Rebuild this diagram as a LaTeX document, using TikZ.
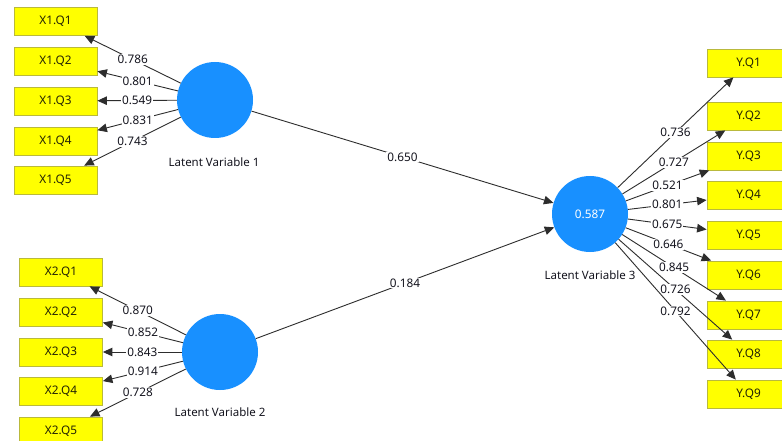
\documentclass[tikz,border=0pt]{standalone}
\usepackage{fontspec}
\setmainfont{Noto Sans}
\usetikzlibrary{arrows.meta}
\definecolor{boxfill}{RGB}{255,255,0}
\definecolor{boxline}{RGB}{185,185,60}
\definecolor{lvblue}{RGB}{24,144,255}
\definecolor{linegray}{RGB}{45,45,45}
\definecolor{txt}{RGB}{20,20,30}
\definecolor{boxtxt}{RGB}{35,35,5}
\begin{document}
\begin{tikzpicture}[x=1pt,y=-1pt,
  ind/.style={draw=boxline, fill=boxfill, minimum width=83pt, minimum height=28pt, inner sep=0pt, line width=0.8pt, font=\fontsize{11.8}{13}\selectfont, text=boxtxt},
  lv/.style={circle, fill=lvblue, minimum size=76pt, inner sep=0pt, text=white, font=\fontsize{11.8}{13}\selectfont},
  lvname/.style={font=\fontsize{11.5}{13}\selectfont, text=txt},
  link/.style={draw=linegray, line width=0.9pt, -{Triangle[length=9.5pt,width=8.5pt]}},
  coef/.style={fill=white, inner sep=1pt, font=\fontsize{11.8}{13}\selectfont, text=txt}]
\clip (0,0) rectangle (782,441);
\fill[white] (0,0) rectangle (782,441);
% latent variables
\node[lv] (lv1) at (215,100) {};
\node[lv] (lv2) at (220,352) {};
\node[lv] (lv3) at (590,214) {0.587};
\node[lvname] (n1) at (214,162) {Latent Variable 1};
\node[lvname] (n2) at (220,412) {Latent Variable 2};
\node[lvname] (n3) at (590,275) {Latent Variable 3};
% X1 indicators
\node[ind] (a1) at (55.5,21.5) {X1.Q1};
\node[ind] (a2) at (55.5,61) {X1.Q2};
\node[ind] (a3) at (55.5,101) {X1.Q3};
\node[ind] (a4) at (55.5,141) {X1.Q4};
\node[ind] (a5) at (55.5,180) {X1.Q5};
% X2 indicators
\node[ind] (b1) at (61,272) {X2.Q1};
\node[ind] (b2) at (61,312) {X2.Q2};
\node[ind] (b3) at (61,352) {X2.Q3};
\node[ind] (b4) at (61,391.5) {X2.Q4};
\node[ind] (b5) at (61,431) {X2.Q5};
% Y indicators
\node[ind] (y1) at (748.5,63) {Y.Q1};
\node[ind] (y2) at (748.5,116) {Y.Q2};
\node[ind] (y3) at (748.5,156) {Y.Q3};
\node[ind] (y4) at (748.5,195) {Y.Q4};
\node[ind] (y5) at (748.5,235) {Y.Q5};
\node[ind] (y6) at (748.5,275) {Y.Q6};
\node[ind] (y7) at (748.5,315) {Y.Q7};
\node[ind] (y8) at (748.5,354) {Y.Q8};
\node[ind] (y9) at (748.5,394) {Y.Q9};
% outer loadings LV1
\draw[link] (lv1) -- node[coef] {0.786} (a1);
\draw[link] (lv1) -- node[coef] {0.801} (a2);
\draw[link] (lv1) -- node[coef] {0.549} (a3);
\draw[link] (lv1) -- node[coef] {0.831} (a4);
\draw[link] (lv1) -- node[coef] {0.743} (a5);
% outer loadings LV2
\draw[link] (lv2) -- node[coef] {0.870} (b1);
\draw[link] (lv2) -- node[coef] {0.852} (b2);
\draw[link] (lv2) -- node[coef] {0.843} (b3);
\draw[link] (lv2) -- node[coef] {0.914} (b4);
\draw[link] (lv2) -- node[coef] {0.728} (b5);
% outer loadings LV3
\draw[link] (lv3) -- node[coef] {0.736} (y1);
\draw[link] (lv3) -- node[coef] {0.727} (y2);
\draw[link] (lv3) -- node[coef] {0.521} (y3);
\draw[link] (lv3) -- node[coef] {0.801} (y4);
\draw[link] (lv3) -- node[coef] {0.675} (y5);
\draw[link] (lv3) -- node[coef] {0.646} (y6);
\draw[link] (lv3) -- node[coef] {0.845} (y7);
\draw[link] (lv3) -- node[coef] {0.726} (y8);
\draw[link] (lv3) -- node[coef] {0.792} (y9);
% path coefficients
\draw[link] (lv1) -- node[coef] {0.650} (lv3);
\draw[link] (lv2) -- node[coef] {0.184} (lv3);
\end{tikzpicture}
\end{document}
